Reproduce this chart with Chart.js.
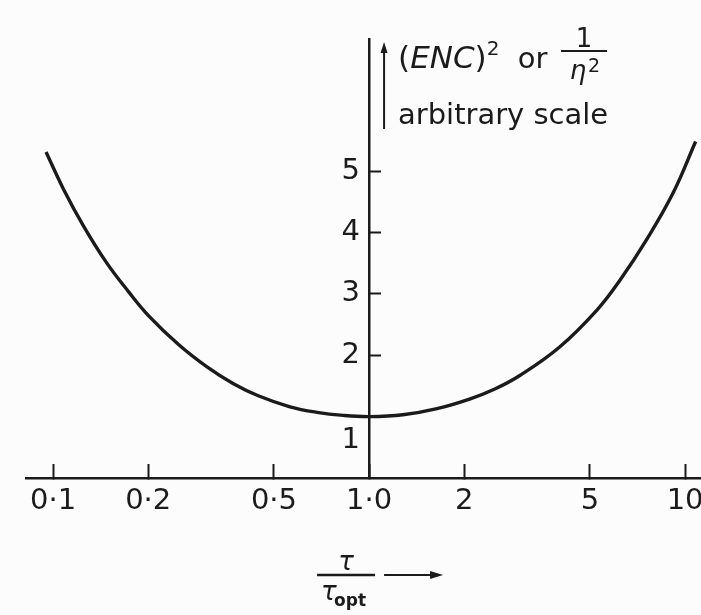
<!DOCTYPE html>
<html>
<head>
<meta charset="utf-8">
<title>(ENC)² versus τ/τopt</title>
<script src="https://cdn.jsdelivr.net/npm/chart.js@4/dist/chart.umd.min.js"></script>
<style>
  html, body { margin: 0; padding: 0; background: #fcfcfc; }
  #wrap { width: 701px; height: 615px; }
</style>
</head>
<body>
<div id="wrap"><canvas id="chart" width="701" height="615"></canvas></div>
<script>
// Shaping-time ratio τ/τopt and the normalised noise (ENC)² at that ratio
const tauRatio   = [0.095, 0.108, 0.125, 0.148, 0.173, 0.2, 0.25, 0.307, 0.371, 0.446, 0.562, 0.684, 0.828, 1.0, 1.28, 1.64, 2.09, 2.5, 3.0, 4.0, 5.27, 6.22, 7.59, 9.16, 10.8];
const encSquared = [5.31, 4.70, 4.10, 3.50, 3.04, 2.65, 2.17, 1.81, 1.54, 1.34, 1.16, 1.07, 1.02, 1.0, 1.03, 1.13, 1.29, 1.45, 1.67, 2.13, 2.74, 3.22, 3.90, 4.64, 5.48];

// Axis ticks and their printed labels
const xTickValues = [0.1, 0.2, 0.5, 1, 2, 5, 10];
const xTickLabels = ['0·1', '0·2', '0·5', '1·0', '2', '5', '10'];
const yTickValues = [1, 2, 3, 4, 5];
const yTickLabels = ['1', '2', '3', '4', '5'];

const INK = '#1b1b1b';
const FONT = '"DejaVu Sans", "Liberation Sans", sans-serif';

// Hand-lettered axis captions: the y caption beside the axis top, the x caption below the ticks
const captions = {
  id: 'captions',
  afterDraw(chart) {
    const ctx = chart.ctx;
    const ax = chart.scales.x.getPixelForValue(1);
    const top = chart.chartArea.top;
    const bottom = chart.chartArea.bottom;
    ctx.save();
    ctx.fillStyle = INK;
    ctx.strokeStyle = INK;
    ctx.lineCap = 'butt';

    // upward arrow next to the y axis
    const arrX = ax + 15;
    ctx.lineWidth = 2;
    ctx.beginPath();
    ctx.moveTo(arrX, top + 90);
    ctx.lineTo(arrX, top + 12);
    ctx.stroke();
    ctx.beginPath();
    ctx.moveTo(arrX, top + 3);
    ctx.lineTo(arrX - 3.5, top + 14);
    ctx.lineTo(arrX + 3.5, top + 14);
    ctx.closePath();
    ctx.fill();

    // (ENC)² or
    ctx.textBaseline = 'alphabetic';
    ctx.textAlign = 'left';
    let x = ax + 29;
    const base1 = top + 29;
    const put = (txt, font, dy) => {
      ctx.font = font;
      ctx.fillText(txt, x, base1 + (dy || 0));
      x += ctx.measureText(txt).width;
    };
    put('(', '31px ' + FONT);
    put('ENC', 'italic 31px ' + FONT);
    put(')', '31px ' + FONT);
    put('2', '20px ' + FONT, -13);
    put('  or', '29px ' + FONT);

    // 1 / η²
    const fx = ax + 215;
    ctx.textAlign = 'center';
    ctx.font = '26px ' + FONT;
    ctx.fillText('1', fx, top + 8);
    ctx.lineWidth = 2;
    ctx.beginPath();
    ctx.moveTo(fx - 23, top + 12);
    ctx.lineTo(fx + 23, top + 12);
    ctx.stroke();
    ctx.font = 'italic 26px ' + FONT;
    ctx.fillText('η', fx - 6, top + 40);
    ctx.font = '19px ' + FONT;
    ctx.textAlign = 'left';
    ctx.fillText('2', fx + 4, top + 33);

    // arbitrary scale
    ctx.font = '29px ' + FONT;
    ctx.fillText('arbitrary scale', ax + 29, top + 85, 210);

    // x caption: τ / τopt followed by an arrow
    const cx = ax - 23;
    const barY = bottom + 97;
    ctx.textAlign = 'center';
    ctx.font = 'italic 26px ' + FONT;
    ctx.fillText('τ', cx, barY - 5);
    ctx.lineWidth = 2.5;
    ctx.beginPath();
    ctx.moveTo(cx - 29, barY);
    ctx.lineTo(cx + 29, barY);
    ctx.stroke();
    ctx.textAlign = 'left';
    ctx.font = 'italic 26px ' + FONT;
    ctx.fillText('τ', cx - 25, barY + 25);
    ctx.font = 'bold 17px ' + FONT;
    ctx.fillText('opt', cx - 12, barY + 31);

    ctx.lineWidth = 2;
    ctx.beginPath();
    ctx.moveTo(ax + 15, barY);
    ctx.lineTo(ax + 64, barY);
    ctx.stroke();
    ctx.beginPath();
    ctx.moveTo(ax + 74, barY);
    ctx.lineTo(ax + 61, barY - 4);
    ctx.lineTo(ax + 61, barY + 4);
    ctx.closePath();
    ctx.fill();
    ctx.restore();
  }
};

new Chart(document.getElementById('chart'), {
  type: 'scatter',
  data: {
    datasets: [{
      data: tauRatio.map((t, i) => ({ x: t, y: encSquared[i] })),
      showLine: true,
      borderColor: INK,
      borderWidth: 3.4,
      pointRadius: 0,
      tension: 0.4,
      fill: false
    }]
  },
  options: {
    responsive: false,
    animation: false,
    devicePixelRatio: 1,
    layout: { padding: { left: 26, right: 0, top: 39, bottom: 0 } },
    plugins: { legend: { display: false }, tooltip: { enabled: false } },
    scales: {
      x: {
        type: 'logarithmic',
        position: 'bottom',
        min: 0.0821,
        max: 11.23,
        afterBuildTicks: (s) => { s.ticks = xTickValues.map(v => ({ value: v })); },
        afterFit: (s) => { s.height = 137; s.paddingLeft = 0; s.paddingRight = 0; },
        grid: {
          drawOnChartArea: false,
          drawTicks: true,
          tickLength: -14,
          tickWidth: 2,
          tickColor: INK
        },
        border: { display: true, color: INK, width: 2.5 },
        ticks: {
          autoSkip: false,
          maxRotation: 0,
          minRotation: 0,
          padding: 20,
          color: INK,
          font: { family: FONT, size: 29 },
          callback: (v, i) => xTickLabels[i]
        }
      },
      y: {
        type: 'linear',
        position: { x: 1 },
        min: 0,
        max: 7.15,
        afterBuildTicks: (s) => { s.ticks = yTickValues.map(v => ({ value: v })); },
        afterFit: (s) => { s.paddingTop = 0; s.paddingBottom = 0; s.paddingLeft = 0; s.paddingRight = 0; },
        grid: {
          drawOnChartArea: false,
          drawTicks: true,
          tickLength: -13,
          tickWidth: 2,
          tickColor: (c) => (c.tick && c.tick.value === 1 ? 'rgba(0,0,0,0)' : INK)
        },
        border: { display: true, color: INK, width: 2.5 },
        ticks: {
          autoSkip: false,
          color: INK,
          font: (c) => ({ family: FONT, size: 29, lineHeight: (c.tick && c.tick.value === 1) ? 1.65 : 1.2 }),
          callback: (v, i) => (yTickValues[i] === 1 ? ['', yTickLabels[i] + ' '] : yTickLabels[i] + ' ')
        }
      }
    }
  },
  plugins: [captions]
});
</script>
</body>
</html>
